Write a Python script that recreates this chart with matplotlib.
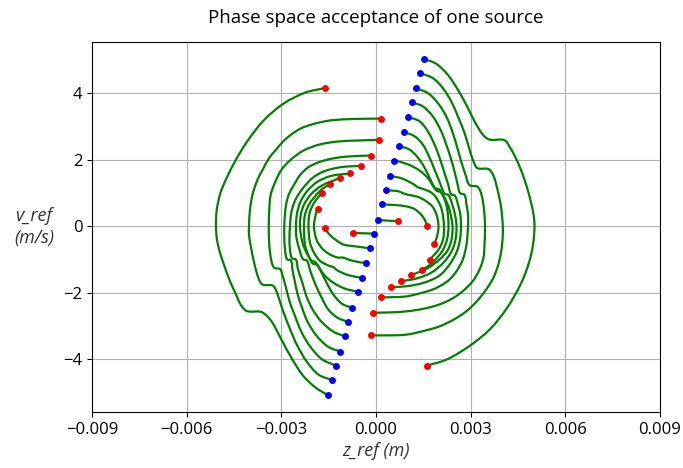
import numpy as np
import matplotlib
matplotlib.use("Agg")
import matplotlib.pyplot as plt
from matplotlib.ticker import FuncFormatter
from matplotlib.path import Path
from matplotlib.patches import PathPatch

plt.rcParams['font.family'] = ['Open Sans', 'DejaVu Sans']

# Trajectories in phase space: z in mm, v in m/s.
# Each run starts at the blue point (first entry) and ends at the red point (last entry).

# Runs starting with v > 0 (swing through z > 0)
z_r1 = [1.515, 1.908, 2.276, 2.593, 2.859, 3.122, 3.385, 3.597, 4.073, 4.247, 4.406, 4.564, 4.707, 4.834, 4.929,
        4.998, 5.024, 4.976, 4.849, 4.596, 4.136, 3.597, 2.964, 2.235, 1.610]
v_r1 = [5.04, 4.89, 4.56, 4.11, 3.66, 3.16, 2.76, 2.61, 2.59, 2.37, 2.10, 1.77, 1.40, 1.01, 0.65,
        0.32, 0.00, -0.55, -1.09, -1.72, -2.48, -3.11, -3.60, -4.01, -4.19]
z_r2 = [1.388, 1.800, 2.117, 2.384, 2.593, 2.805, 2.964, 3.090, 3.217, 3.566, 3.724, 3.851, 3.962, 4.019,
        4.010, 3.962, 3.861, 3.708, 3.493, 3.201, 2.859, 2.456, 2.013, 1.506, 0.957, 0.428, -0.152]
v_r2 = [4.61, 4.46, 4.16, 3.76, 3.31, 2.81, 2.31, 1.95, 1.75, 1.72, 1.52, 1.10, 0.59, 0.00,
        -0.40, -0.79, -1.20, -1.57, -1.90, -2.25, -2.56, -2.81, -3.01, -3.15, -3.26, -3.28, -3.28]
z_r3 = [1.261, 1.642, 1.959, 2.225, 2.434, 2.593, 2.710, 2.837, 2.964, 3.217, 3.344, 3.423, 3.455,
        3.439, 3.407, 3.281, 3.059, 2.751, 2.425, 2.013, 1.506, 0.957, 0.428, -0.101]
v_r3 = [4.15, 4.01, 3.71, 3.31, 2.81, 2.31, 1.92, 1.55, 1.24, 1.19, 0.95, 0.50, 0.00,
        -0.55, -0.94, -1.30, -1.66, -1.95, -2.17, -2.35, -2.48, -2.56, -2.59, -2.60]
z_r4 = [1.135, 1.483, 1.800, 2.067, 2.244, 2.384, 2.488, 2.583, 2.662, 2.805, 2.868, 2.916, 2.916,
        2.868, 2.751, 2.567, 2.330, 2.076, 1.800, 1.379, 0.957, 0.555, 0.165]
v_r4 = [3.73, 3.61, 3.31, 2.86, 2.41, 2.01, 1.65, 1.28, 1.00, 0.95, 0.65, 0.35, 0.00,
        -0.55, -1.00, -1.33, -1.60, -1.77, -1.90, -2.02, -2.11, -2.13, -2.14]
z_r5 = [1.008, 1.379, 1.642, 1.854, 2.013, 2.155, 2.282, 2.377, 2.504, 2.599, 2.672, 2.694,
        2.662, 2.561, 2.330, 2.013, 1.537, 0.998, 0.482]
v_r5 = [3.29, 3.16, 2.86, 2.46, 2.07, 1.65, 1.28, 0.97, 0.92, 0.65, 0.35, 0.00,
        -0.40, -0.76, -1.15, -1.48, -1.69, -1.80, -1.83]
z_r6 = [0.881, 1.220, 1.483, 1.696, 1.854, 2.013, 2.171, 2.298, 2.409, 2.504, 2.551,
        2.520, 2.393, 2.139, 1.759, 1.284, 0.808]
v_r6 = [2.84, 2.71, 2.46, 2.07, 1.71, 1.34, 0.98, 0.94, 0.68, 0.35, 0.00,
        -0.40, -0.76, -1.09, -1.39, -1.57, -1.65]
z_r7 = [0.745, 1.062, 1.325, 1.537, 1.727, 1.918, 2.044, 2.203, 2.330, 2.425,
        2.393, 2.266, 2.013, 1.632, 1.125]
v_r7 = [2.41, 2.31, 2.07, 1.77, 1.40, 1.07, 1.03, 0.80, 0.50, 0.00,
        -0.40, -0.73, -1.00, -1.26, -1.47]
z_r8 = [0.586, 0.998, 1.379, 1.664, 1.854, 2.013, 2.139, 2.250, 2.298, 2.250, 2.108, 1.886, 1.680, 1.452]
v_r8 = [1.98, 1.87, 1.68, 1.43, 1.16, 1.10, 0.89, 0.56, 0.00, -0.40, -0.73, -1.00, -1.18, -1.31]
z_r9 = [0.450, 0.849, 1.220, 1.315, 1.474, 1.759, 1.949, 2.092, 2.155, 2.124, 1.981, 1.705]
v_r9 = [1.52, 1.43, 1.25, 1.18, 1.13, 1.01, 0.80, 0.47, 0.00, -0.40, -0.70, -1.00]
z_r10 = [0.323, 0.681, 0.903, 1.062, 1.315, 1.569, 1.791, 1.918, 1.981, 1.933, 1.845]
v_r10 = [1.08, 1.06, 0.98, 0.94, 0.89, 0.77, 0.59, 0.35, 0.00, -0.31, -0.54]
z_r11 = [0.197, 0.586, 0.957, 1.220, 1.433, 1.569, 1.610]
v_r11 = [0.66, 0.64, 0.60, 0.52, 0.35, 0.15, 0.01]
z_r12 = [0.057, 0.713]
v_r12 = [0.19, 0.15]

# Runs starting with v < 0 (swing through z < 0)
z_l1 = [-1.528, -1.918, -2.314, -2.678, -2.995, -3.281, -3.487, -3.661, -4.089, -4.279, -4.437, -4.628, -4.802,
        -4.945, -5.039, -5.071, -5.046, -4.930, -4.730, -4.453, -4.105, -3.566, -2.932, -2.250, -1.623]
v_l1 = [-5.08, -4.85, -4.49, -3.96, -3.41, -2.90, -2.67, -2.57, -2.55, -2.37, -2.05, -1.65, -1.20,
        -0.79, -0.40, 0.00, 0.50, 1.00, 1.46, 1.98, 2.52, 3.18, 3.69, 4.02, 4.16]
z_l2 = [-1.388, -1.823, -2.187, -2.504, -2.742, -2.948, -3.090, -3.185, -3.281, -3.597, -3.724, -3.851, -3.962,
        -4.025, -4.025, -3.994, -3.914, -3.756, -3.588, -3.376, -3.163, -2.948, -2.688, -2.393, -2.054,
        -1.759, -1.420, -0.681, 0.158]
v_l2 = [-4.63, -4.46, -4.08, -3.57, -3.05, -2.54, -2.13, -1.89, -1.78, -1.75, -1.56, -1.14, -0.63,
        -0.25, 0.00, 0.50, 0.95, 1.40, 1.71, 2.07, 2.31, 2.55, 2.76, 2.94, 3.06,
        3.13, 3.19, 3.23, 3.24]
z_l3 = [-1.262, -1.696, -2.060, -2.352, -2.583, -2.742, -2.862, -2.964, -3.036, -3.233, -3.328, -3.382, -3.398,
        -3.382, -3.344, -3.217, -3.005, -2.694, -2.298, -1.791, -1.220, -0.618, 0.089]
v_l3 = [-4.19, -4.01, -3.65, -3.20, -2.66, -2.25, -1.81, -1.47, -1.29, -1.24, -0.97, -0.55, 0.00,
        0.50, 0.92, 1.28, 1.69, 2.01, 2.28, 2.46, 2.55, 2.58, 2.60]
z_l4 = [-1.125, -1.506, -1.876, -2.165, -2.361, -2.482, -2.577, -2.647, -2.694, -2.821, -2.884, -2.906, -2.906,
        -2.884, -2.837, -2.758, -2.615, -2.409, -2.139, -1.807, -1.379, -0.894, -0.165]
v_l4 = [-3.77, -3.63, -3.30, -2.88, -2.40, -2.05, -1.64, -1.31, -1.03, -0.99, -0.70, -0.34, 0.00,
        0.38, 0.71, 0.97, 1.22, 1.54, 1.78, 1.93, 2.04, 2.10, 2.13]
z_l5 = [-0.998, -1.369, -1.737, -2.003, -2.203, -2.345, -2.472, -2.536, -2.662, -2.726, -2.742, -2.726,
        -2.678, -2.552, -2.330, -2.003, -1.632, -1.103, -0.482]
v_l5 = [-3.31, -3.16, -2.86, -2.51, -2.11, -1.66, -1.30, -1.00, -0.96, -0.70, -0.34, 0.00,
        0.44, 0.80, 1.13, 1.46, 1.66, 1.78, 1.82]
z_l6 = [-0.872, -1.220, -1.506, -1.727, -1.918, -2.076, -2.187, -2.314, -2.425, -2.520, -2.536,
        -2.504, -2.393, -2.171, -1.854, -1.410, -0.808]
v_l6 = [-2.88, -2.75, -2.51, -2.14, -1.75, -1.36, -1.03, -0.99, -0.70, -0.34, 0.00,
        0.38, 0.74, 1.07, 1.34, 1.52, 1.59]
z_l7 = [-0.745, -1.062, -1.331, -1.537, -1.727, -1.918, -2.044, -2.203, -2.330, -2.409,
        -2.377, -2.266, -2.044, -1.727, -1.135]
v_l7 = [-2.45, -2.34, -2.08, -1.75, -1.39, -1.08, -1.03, -0.79, -0.49, 0.00,
        0.38, 0.68, 0.98, 1.22, 1.46]
z_l8 = [-0.577, -0.998, -1.379, -1.664, -1.854, -2.013, -2.139, -2.250, -2.282, -2.250, -2.108, -1.886, -1.696, -1.452]
v_l8 = [-1.97, -1.87, -1.68, -1.44, -1.17, -1.11, -0.88, -0.55, 0.00, 0.35, 0.68, 0.95, 1.13, 1.26]
z_l9 = [-0.450, -0.872, -1.220, -1.347, -1.506, -1.759, -1.949, -2.092, -2.139, -2.108, -1.997, -1.854, -1.718]
v_l9 = [-1.55, -1.47, -1.33, -1.23, -1.18, -1.05, -0.82, -0.49, 0.00, 0.38, 0.65, 0.85, 0.99]
z_l10 = [-0.323, -0.681, -0.903, -1.046, -1.211, -1.474, -1.712, -1.886, -1.965, -1.911, -1.845]
v_l10 = [-1.11, -1.05, -0.99, -0.94, -0.94, -0.84, -0.66, -0.40, 0.00, 0.35, 0.53]
z_l11 = [-0.197, -0.681, -1.030, -1.211, -1.442, -1.569, -1.616]
v_l11 = [-0.66, -0.60, -0.55, -0.45, -0.28, -0.13, -0.05]
z_l12 = [-0.070, -0.713]
v_l12 = [-0.22, -0.20]

runs = [
    (z_r1, v_r1), (z_r2, v_r2), (z_r3, v_r3), (z_r4, v_r4), (z_r5, v_r5), (z_r6, v_r6),
    (z_r7, v_r7), (z_r8, v_r8), (z_r9, v_r9), (z_r10, v_r10), (z_r11, v_r11), (z_r12, v_r12),
    (z_l1, v_l1), (z_l2, v_l2), (z_l3, v_l3), (z_l4, v_l4), (z_l5, v_l5), (z_l6, v_l6),
    (z_l7, v_l7), (z_l8, v_l8), (z_l9, v_l9), (z_l10, v_l10), (z_l11, v_l11), (z_l12, v_l12),
]

x_ticks = [-0.009, -0.006, -0.003, 0.000, 0.003, 0.006, 0.009]


def trajectory_path(z_mm, v):
    """Smooth Bezier path through the sampled (z, v) points, z returned in metres."""
    # roughly isotropic working frame so the tangent lengths are balanced on screen
    sx, sy = 31.55, 33.25
    p = np.column_stack([np.asarray(z_mm, float) * sx, np.asarray(v, float) * sy])
    n = len(p)
    if n < 3:
        verts = p
        codes = [Path.MOVETO] + [Path.LINETO] * (n - 1)
    else:
        d = np.empty_like(p)
        d[0] = p[1] - p[0]
        d[-1] = p[-1] - p[-2]
        d[1:-1] = p[2:] - p[:-2]
        d /= np.linalg.norm(d, axis=1)[:, None]
        verts = [p[0]]
        codes = [Path.MOVETO]
        for i in range(n - 1):
            seg = np.linalg.norm(p[i + 1] - p[i])
            verts += [p[i] + d[i] * seg / 3, p[i + 1] - d[i + 1] * seg / 3, p[i + 1]]
            codes += [Path.CURVE4] * 3
        verts = np.asarray(verts)
    verts = verts / [sx, sy]
    verts[:, 0] *= 1e-3
    return Path(verts, codes)


fig = plt.figure(figsize=(6.83, 4.68), dpi=100)
ax = fig.add_axes([0.1347, 0.1197, 0.8316, 0.7906])

for z_mm, v in runs:
    ax.add_patch(PathPatch(trajectory_path(z_mm, v), facecolor='none', edgecolor='green',
                           lw=1.6, zorder=2, capstyle='round', joinstyle='round'))

for z_mm, v in runs:
    ax.plot(z_mm[0] * 1e-3, v[0], 'o', color='blue', ms=5, mec='none', zorder=3)
    ax.plot(z_mm[-1] * 1e-3, v[-1], 'o', color='red', ms=5, mec='none', zorder=3)

all_v = np.concatenate([np.asarray(v) for _, v in runs])
v_pad = 0.05 * (all_v.max() - all_v.min())
ax.set_ylim(all_v.min() - v_pad, all_v.max() + v_pad)
ax.set_xlim(-0.009, 0.009)
ax.set_xticks(x_ticks)
ax.xaxis.set_major_formatter(FuncFormatter(lambda x, p: f"{x:.3f}".replace('-', '\u2212')))
ax.yaxis.set_major_formatter(FuncFormatter(lambda y, p: f"{y:.0f}".replace('-', '\u2212')))
ax.grid(True, color='#b0b0b0', lw=0.8, zorder=0)
ax.set_axisbelow(True)
ax.tick_params(labelsize=12)

ax.set_title('Phase space acceptance of one source', fontsize=13.5, pad=14)
ax.set_xlabel('z_ref (m)', style='italic', fontsize=13, color='#333333', labelpad=3)
ax.set_ylabel('v_ref\n(m/s)', style='italic', fontsize=13, rotation=0, color='#333333',
              ha='center', va='center', linespacing=1.3)
ax.yaxis.set_label_coords(-0.102, 0.50)

fig.savefig('out.png', dpi=100)
